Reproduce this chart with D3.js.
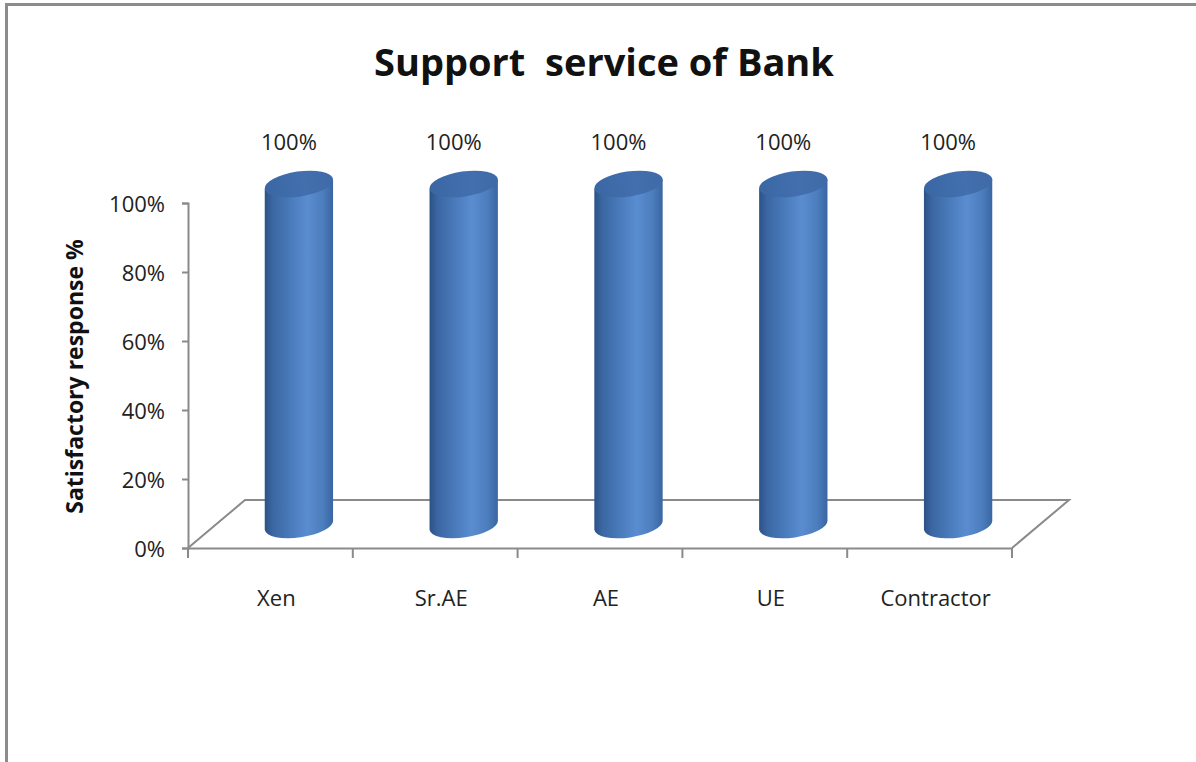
<!DOCTYPE html>
<html>
<head>
<meta charset="utf-8">
<script src="https://cdn.jsdelivr.net/npm/d3@7"></script>
<style>
  html, body { margin: 0; padding: 0; background: #fff; }
  svg text { font-family: "Open Sans", "Liberation Sans", sans-serif; }
</style>
</head>
<body>
<svg id="chart" width="1196" height="762"></svg>
<script>
// chart data
const categories = ["Xen", "Sr.AE", "AE", "UE", "Contractor"];
const values = [1.0, 1.0, 1.0, 1.0, 1.0];
const dataLabels = ["100%", "100%", "100%", "100%", "100%"];
const yTicks = [0, 0.2, 0.4, 0.6, 0.8, 1.0];

const svg = d3.select("#chart");

// frame of the chart area (right / bottom edges are cut off in the picture)
svg.append("rect")
    .attr("x", 6.5).attr("y", 4.5)
    .attr("width", 1300).attr("height", 900)
    .attr("fill", "none")
    .attr("stroke", "#8c8c8c")
    .attr("stroke-width", 3);

// plot geometry
const plot = { left: 188, right: 1012, top: 203, bottom: 548 };
const depth = { dx: 57, dy: -48 };   // oblique offset of the floor back edge

const x = d3.scaleBand()
    .domain(categories)
    .range([plot.left, plot.right]);

const y = d3.scaleLinear()
    .domain([0, 1])
    .range([plot.bottom, plot.top]);

// gradients for the cylinders
const defs = svg.append("defs");
const bodyGrad = defs.append("linearGradient")
    .attr("id", "bodyGrad")
    .attr("x1", "0%").attr("x2", "100%").attr("y1", "0%").attr("y2", "0%");
[["0%", "#2c5286"], ["12%", "#3b67a3"], ["45%", "#4e80c2"], ["62%", "#5a8dd0"],
 ["85%", "#4c7dbd"], ["100%", "#3a66a2"]].forEach(([o, c]) =>
    bodyGrad.append("stop").attr("offset", o).attr("stop-color", c));

const topGrad = defs.append("linearGradient")
    .attr("id", "topGrad")
    .attr("x1", "0%").attr("x2", "100%").attr("y1", "0%").attr("y2", "0%");
[["0%", "#3a67a4"], ["60%", "#436fae"], ["100%", "#3e6aa7"]].forEach(([o, c]) =>
    topGrad.append("stop").attr("offset", o).attr("stop-color", c));

// floor (3D base)
const axisColor = "#8a8a8a";
svg.append("path")
    .attr("fill", "none")
    .attr("stroke", axisColor)
    .attr("stroke-width", 2)
    .attr("d", d3.line()([
        [plot.left, plot.bottom],
        [plot.left + depth.dx, plot.bottom + depth.dy],
        [plot.right + depth.dx, plot.bottom + depth.dy],
        [plot.right, plot.bottom]
    ]));

// y axis
const yAxis = svg.append("g")
    .attr("transform", `translate(${plot.left},0)`)
    .call(d3.axisLeft(y)
        .tickValues(yTicks)
        .tickFormat(d3.format(".0%"))
        .tickSize(6)
        .tickPadding(17));
yAxis.select(".domain").attr("stroke", axisColor).attr("stroke-width", 2);
yAxis.selectAll(".tick line").attr("stroke", axisColor).attr("stroke-width", 2);
yAxis.selectAll(".tick text")
    .attr("fill", "#222")
    .style("font-size", "22px")
    .attr("dy", "0.4em");

// x axis (front edge of floor)
const xAxis = svg.append("g")
    .attr("transform", `translate(0,${plot.bottom})`)
    .call(d3.axisBottom(x).tickSize(0).tickPadding(0));
xAxis.select(".domain").attr("stroke", axisColor).attr("stroke-width", 2);
xAxis.selectAll(".tick text").remove();

// tick marks at the category boundaries
const bounds = categories.map(c => x(c)).concat([plot.right]);
xAxis.selectAll("line.bound")
    .data(bounds)
    .join("line")
    .attr("class", "bound")
    .attr("x1", d => d).attr("x2", d => d)
    .attr("y1", 0).attr("y2", 10)
    .attr("stroke", axisColor)
    .attr("stroke-width", 2);

// category labels
svg.append("g")
    .selectAll("text")
    .data(categories)
    .join("text")
    .attr("x", d => x(d) + x.bandwidth() / 2 + 6)
    .attr("y", 606)
    .attr("text-anchor", "middle")
    .attr("fill", "#222")
    .style("font-size", "22px")
    .text(d => d);

// cylinders
const rx = 34.5, ry = 12.5, tilt = -8;
const cyl = svg.append("g");
categories.forEach((c, i) => {
    const cx = x(c) + x.bandwidth() / 2 + depth.dx / 2;
    const yBottom = y(0) + depth.dy / 2 + 1;
    const yTop = y(values[i]) + depth.dy / 2 + 5;
    const g = cyl.append("g");
    const t = tilt * Math.PI / 180;
    // body: side walls plus lower half of the bottom ellipse
    const lx = cx - rx * Math.cos(t), rxp = cx + rx * Math.cos(t);
    const ldy = -rx * Math.sin(t);
    g.append("path")
        .attr("d", `M${lx},${yTop + ldy} L${lx},${yBottom + ldy}
                    A${rx},${ry} ${tilt} 0 0 ${rxp},${yBottom - ldy}
                    L${rxp},${yTop - ldy} Z`)
        .attr("fill", "url(#bodyGrad)");
    // top cap
    g.append("ellipse")
        .attr("cx", cx).attr("cy", yTop)
        .attr("rx", rx).attr("ry", ry)
        .attr("transform", `rotate(${tilt},${cx},${yTop})`)
        .attr("fill", "url(#topGrad)");

    // data label
    svg.append("text")
        .attr("x", cx - 10)
        .attr("y", y(values[i]) - 53)
        .attr("text-anchor", "middle")
        .attr("fill", "#222")
        .style("font-size", "22px")
        .text(dataLabels[i]);
});

// y axis title
svg.append("text")
    .attr("transform", `translate(83,${(plot.top + plot.bottom) / 2 + 1}) rotate(-90)`)
    .attr("text-anchor", "middle")
    .attr("fill", "#111")
    .style("font-size", "23px")
    .style("font-weight", "bold")
    .text("Satisfactory response %");

// chart title
svg.append("text")
    .attr("x", 604)
    .attr("y", 76)
    .attr("text-anchor", "middle")
    .attr("fill", "#111")
    .style("font-size", "38px")
    .style("font-weight", "bold")
    .attr("xml:space", "preserve")
    .text("Support  service of Bank");
</script>
</body>
</html>
